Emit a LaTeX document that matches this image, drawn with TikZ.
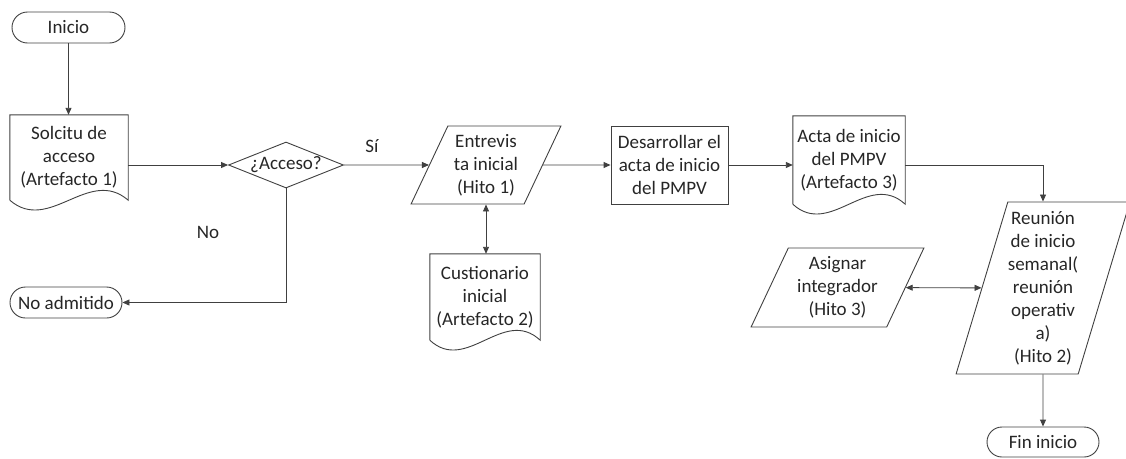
\documentclass[tikz,border=0pt]{standalone}
\usepackage{fontspec}
\setmainfont{Carlito}
\usetikzlibrary{arrows.meta,shapes.geometric,shapes.misc,calc}

\begin{document}
\begin{tikzpicture}[x=1pt,y=-1pt,
  every node/.style={font=\fontsize{19}{23}\selectfont, text=black!85, align=center, inner sep=0pt},
  line/.style={draw=black!75, line width=0.9pt},
  arr/.style={line, -{Triangle[length=7pt,width=6pt]}},
  darr/.style={line, {Triangle[length=7pt,width=6pt]}-{Triangle[length=7pt,width=6pt]}},
  terminal/.style={line, rounded rectangle, minimum height=31pt},
  process/.style={line, rectangle},
  decision/.style={line, diamond, aspect=2.5},
  io/.style={line, trapezium, trapezium stretches=true},
  docbody/.style={rectangle}
]
\useasboundingbox (0,0) rectangle (1126,458);

% document shape: straight sides, wavy bottom edge
\newcommand{\docshape}[1]{%
  \draw[line] (#1.south west) -- (#1.north west) -- (#1.north east) -- (#1.south east)
    .. controls ($(#1.south east)!0.333!(#1.south west)+(0,-34)$)
       and ($(#1.south east)!0.667!(#1.south west)+(0,34)$) .. (#1.south west);}

% nodes
\node[terminal, minimum width=113pt] (ini) at (68.5,27.5) {Inicio};
\node[docbody, minimum width=118pt, minimum height=85pt] (sol) at (69,157.5)
  {Solcitu de\\acceso\\(Artefacto 1)};
\docshape{sol}
\node[decision, minimum width=115pt, minimum height=46pt] (acc) at (286,165) {¿Acceso?};
\node[terminal, minimum width=112pt] (noa) at (66,302.5) {No admitido};
\node[io, trapezium left angle=63.4, trapezium right angle=116.6,
  minimum width=150pt, minimum height=78pt] (ent) at (486,165)
  {Entrevis\\ta inicial\\(Hito 1)};
\node[process, minimum width=117pt, minimum height=78pt] (des) at (669.5,165)
  {Desarrollar el\\acta de inicio\\del PMPV};
\node[docbody, minimum width=112pt, minimum height=88pt] (act) at (849,160)
  {Acta de inicio\\del PMPV\\(Artefacto 3)};
\docshape{act}
\node[docbody, minimum width=110pt, minimum height=86pt] (cus) at (485,297)
  {Custionario\\inicial\\(Artefacto 2)};
\docshape{cus}
\node[io, trapezium left angle=71.4, trapezium right angle=108.6,
  minimum width=170pt, minimum height=172pt] (reu) at (1043,288)
  {Reunión\\de inicio\\semanal(\\reunión\\operativ\\a)\\(Hito 2)};
\node[io, trapezium left angle=63.7, trapezium right angle=116.3,
  minimum width=173pt, minimum height=79pt] (asi) at (837.5,287.5)
  {Asignar\\integrador\\(Hito 3)};
\node[terminal, minimum width=112pt, minimum height=30pt] (fin) at (1043,442) {Fin inicio};

% labels
\node (si) at (372,146) {Sí};
\node (no) at (208,232) {No};

% connectors
\draw[arr] (ini.south) -- (ini.south |- sol.north);
\draw[arr] (sol.east |- acc.west) -- (acc.west);
\draw[arr] (acc.east) -- (ent);
\draw[arr] (acc.south) |- (noa.east);
\draw[arr] (ent) -- (des.west);
\draw[darr] (ent.south) -- (ent.south |- cus.north);
\draw[arr] (des.east) -- (act.west |- des.east);
\draw[arr] (act.east |- des.east) -| (reu.north);
\draw[darr] (asi) -- (reu);
\draw[arr] (reu.south) -- (fin.north);
\end{tikzpicture}
\end{document}
